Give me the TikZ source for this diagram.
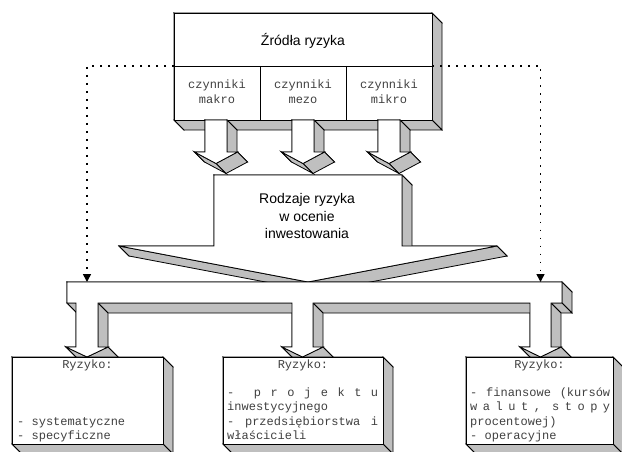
\documentclass[tikz,border=0pt]{standalone}
\usepackage{fontspec}
\setmainfont{Liberation Sans}
\setmonofont{Liberation Mono}
\usetikzlibrary{arrows.meta}

% extruded block: depth, first corner x and y, the other corners (back to the first)
\newcommand{\solidblock}[4]{%
  \foreach \pass in {0,1}{%
    \xdef\lx{#2}\xdef\ly{#3}%
    \foreach \x/\y in {#4}{%
      \pgfmathtruncatemacro\seen{((\y)-(\ly)) > ((\x)-(\lx)) ? 1 : 0}%
      \ifnum\seen=\pass\relax
        \filldraw[sideface] (\lx,\ly) -- (\x,\y) -- ({\x+#1},{\y+#1}) -- ({\lx+#1},{\ly+#1}) -- cycle;
      \fi
      \xdef\lx{\x}\xdef\ly{\y}%
    }%
  }%
  \filldraw[frontface] (#2,#3) \foreach \x/\y in {#4}{ -- (\x,\y)} -- cycle;
}

\begin{document}
\begin{tikzpicture}[x=1pt, y=-1pt]
        % Block style definitions
        \tikzset{
            frontface/.style={fill=white, draw=black, line width=0.8pt},
            sideface/.style={fill=black!25, draw=black, line width=0.8pt},
            title/.style={font=\fontsize{14}{17}\selectfont, inner sep=0pt, anchor=base},
            mono/.style={font=\fontsize{12}{14}\ttfamily, text=black!75, inner sep=0pt, anchor=base west},
            dotlink/.style={line width=1.6pt, dash pattern=on 1.6pt off 6.4pt,
                -{Triangle[length=8pt, width=8pt]}}
        }
        \useasboundingbox (0,0) rectangle (622,452);

        % ==========================================
        % SOURCES BOX (top)
        % ==========================================
        \solidblock{10}{174}{13}{432/13, 432/120, 174/120, 174/13}
        \draw[line width=0.8pt] (174,66) -- (432,66);
        \draw[line width=0.8pt] (260,66) -- (260,120);
        \draw[line width=0.8pt] (346,66) -- (346,120);

        \node[title] (zrodla) at (303,46) {Źródła ryzyka};
        \foreach \cx/\w [count=\i] in {217/makro, 303/mezo, 389/mikro} {
            \node[mono, anchor=base] (cz\i) at (\cx,89) {czynniki};
            \node[mono, anchor=base] (cw\i) at (\cx,103) {\w};
        }
        \coordinate (src-l) at (174,66);
        \coordinate (src-r) at (432,66);

        % ==========================================
        % BIG ARROW (middle)
        % ==========================================
        \solidblock{10}{214}{175}{402/175, 402/246, 497/246, 308/282, 119/246, 214/246, 214/175}
        \node[title] (rodz1) at (307,203.5) {Rodzaje ryzyka};
        \node[title] (rodz2) at (307,221) {w ocenie};
        \node[title] (rodz3) at (307,238.5) {inwestowania};

        % small arrows from the three cells
        \foreach \c in {216,303,389} {
            \solidblock{10}{\c-11}{120}{\c+11/120, \c+11/152, \c+21.5/152, \c/163.5,
                \c-21.5/152, \c-11/152, \c-11/120}
        }

        % ==========================================
        % DISTRIBUTION BAR (y = 282 to y = 357)
        % ==========================================
        \solidblock{10}{67}{282}{562/282, 562/303, 551/303, 551/347, 561/347, 540.5/357,
            520/347, 530/347, 530/303, 313/303, 313/347, 323/347, 302.5/357,
            282/347, 292/347, 292/303, 98/303, 98/347, 108/347, 87/357,
            66/347, 76/347, 76/303, 67/303, 67/282}
        \coordinate (bar-l) at (87,282);
        \coordinate (bar-r) at (540.5,282);

        % ==========================================
        % RISK BOXES (bottom)
        % ==========================================
        \solidblock{10}{12}{357}{163/357, 163/444, 12/444, 12/357}
        \solidblock{10}{223}{357}{383/357, 383/444, 223/444, 223/357}
        \solidblock{10}{466}{357}{613/357, 613/444, 466/444, 466/357}

        \node[mono, anchor=base] (ryz1) at (87.5,368) {Ryzyko:};
        \node[mono] (ryz1a) at (17,425.2) {- systematyczne};
        \node[mono] (ryz1b) at (17,439.5) {- specyficzne};

        \node[mono, anchor=base] (ryz2) at (303,368) {Ryzyko:};
        \node[mono] (ryz2a) at (227,396.6)
            {\makebox[151pt][s]{-\hspace{10pt}\hfill p\hfill r\hfill o\hfill j\hfill e\hfill k\hfill t\hfill u}};
        \node[mono] (ryz2b) at (227,410.9) {inwestycyjnego};
        \node[mono] (ryz2c) at (227,425.2) {\makebox[151pt][s]{-\hfill przedsiębiorstwa\hfill i}};
        \node[mono] (ryz2d) at (227,439.5) {właścicieli};

        \node[mono, anchor=base] (ryz3) at (539.5,368) {Ryzyko:};
        \node[mono] (ryz3a) at (470,396.6) {\makebox[140pt][s]{-\hfill finansowe\hfill (kursów}};
        \node[mono] (ryz3b) at (470,410.9)
            {\makebox[140pt][s]{w\hfill a\hfill l\hfill u\hfill t\hfill ,\hfill\hfill s\hfill t\hfill o\hfill p\hfill y}};
        \node[mono] (ryz3c) at (470,425.2) {procentowej)};
        \node[mono] (ryz3d) at (470,439.5) {- operacyjne};

        % dotted links from the sources box to the bar
        \draw[dotlink] (src-l) -| (bar-l);
        \draw[dotlink] (src-r) -| (bar-r);

    \end{tikzpicture}
\end{document}
